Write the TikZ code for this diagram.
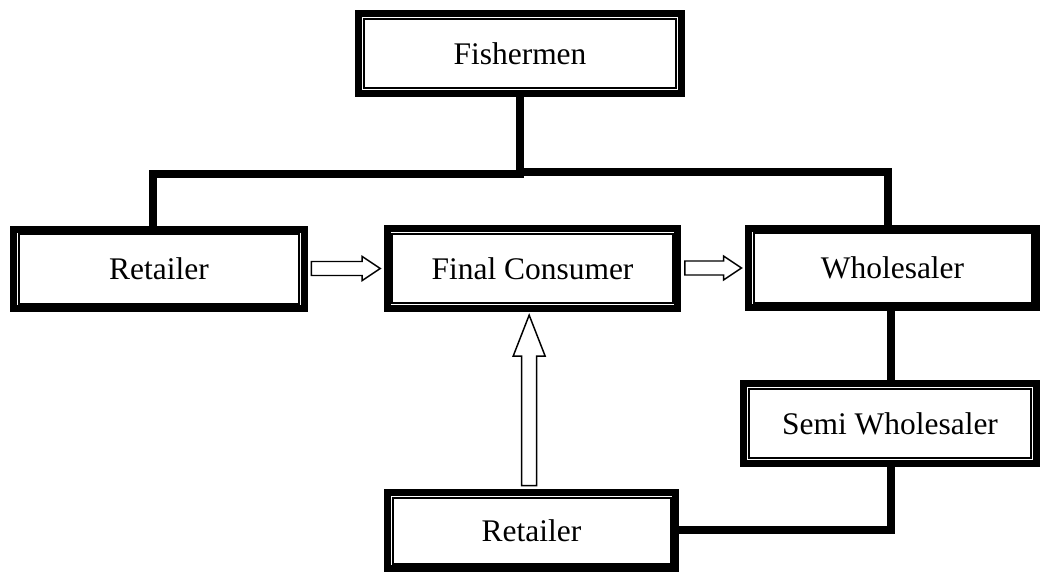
\documentclass[tikz,border=0pt]{standalone}
\usepackage{fontspec}
\setmainfont{Liberation Serif}
\usetikzlibrary{calc}
\begin{document}
\begin{tikzpicture}[x=0.75pt,y=-0.75pt,
  boxst/.style={draw=black, fill=white, line width=5.25pt, inner sep=0pt,
    minimum width=218pt, minimum height=59.5pt,
    font=\fontsize{23.6}{28}\selectfont},
  innerline/.style={draw=black, line width=1.5pt},
  conn/.style={draw=black, line width=6pt, line cap=butt, line join=miter},
  barrow/.style={draw=black, fill=white, line width=1.1pt, line join=miter}]
\useasboundingbox (0,0) rectangle (1042,573);

% junction coordinates
\coordinate (jl) at (153,174);
\coordinate (jr) at (888,172);

% connectors (drawn first, boxes cover their ends)
\draw[conn] (520,97) |- (jl) -- (153,226);
\draw[conn] (520,60) |- (jr) -- (888,226);
\draw[conn] (891,300) -- (891,390);
\draw[conn] (891,450) |- (600,530);

% boxes
\node[boxst, minimum width=242pt] (fish) at (520,53.5) {Fishermen};
\node[boxst] (ret1) at (159,269) {Retailer};
\node[boxst] (fc) at (532.5,268.5) {Final Consumer};
\node[boxst, minimum width=216pt] (whole) at (892.5,268) {Wholesaler};
\node[boxst, minimum width=219.5pt] (semi) at (890,423.5) {Semi Wholesaler};
\node[boxst, minimum width=216pt, minimum height=57pt] (ret2) at (531.5,530.5) {Retailer};

\foreach \n in {fish,ret1,fc,whole,semi,ret2}
  \draw[innerline] ([shift={(8.5,8.5)}]\n.north west) rectangle ([shift={(-8.5,-8.5)}]\n.south east);

% block arrows
\draw[barrow] let \p1=([xshift=2.6pt]ret1.east), \p2=([xshift=-2.6pt]fc.west) in
  (\x1,\y2+5.25pt) -- (\x2-13.5pt,\y2+5.25pt) -- (\x2-13.5pt,\y2+9pt) -- (\x2,\y2)
  -- (\x2-13.5pt,\y2-9pt) -- (\x2-13.5pt,\y2-5.25pt) -- (\x1,\y2-5.25pt) -- cycle;
\draw[barrow] let \p1=([xshift=2.6pt]fc.east), \p2=([xshift=-2.6pt]whole.west) in
  (\x1,\y2+5.25pt) -- (\x2-13.5pt,\y2+5.25pt) -- (\x2-13.5pt,\y2+9pt) -- (\x2,\y2)
  -- (\x2-13.5pt,\y2-9pt) -- (\x2-13.5pt,\y2-5.25pt) -- (\x1,\y2-5.25pt) -- cycle;
\draw[barrow] let \p1=([yshift=2.6pt]ret2.north), \p2=([yshift=-2.6pt,xshift=-2.5pt]fc.south) in
  (\x2-5.6pt,\y1) -- (\x2-5.6pt,\y2-30.75pt) -- (\x2-12pt,\y2-30.75pt) -- (\x2,\y2)
  -- (\x2+12pt,\y2-30.75pt) -- (\x2+5.6pt,\y2-30.75pt) -- (\x2+5.6pt,\y1) -- cycle;
\end{tikzpicture}
\end{document}
